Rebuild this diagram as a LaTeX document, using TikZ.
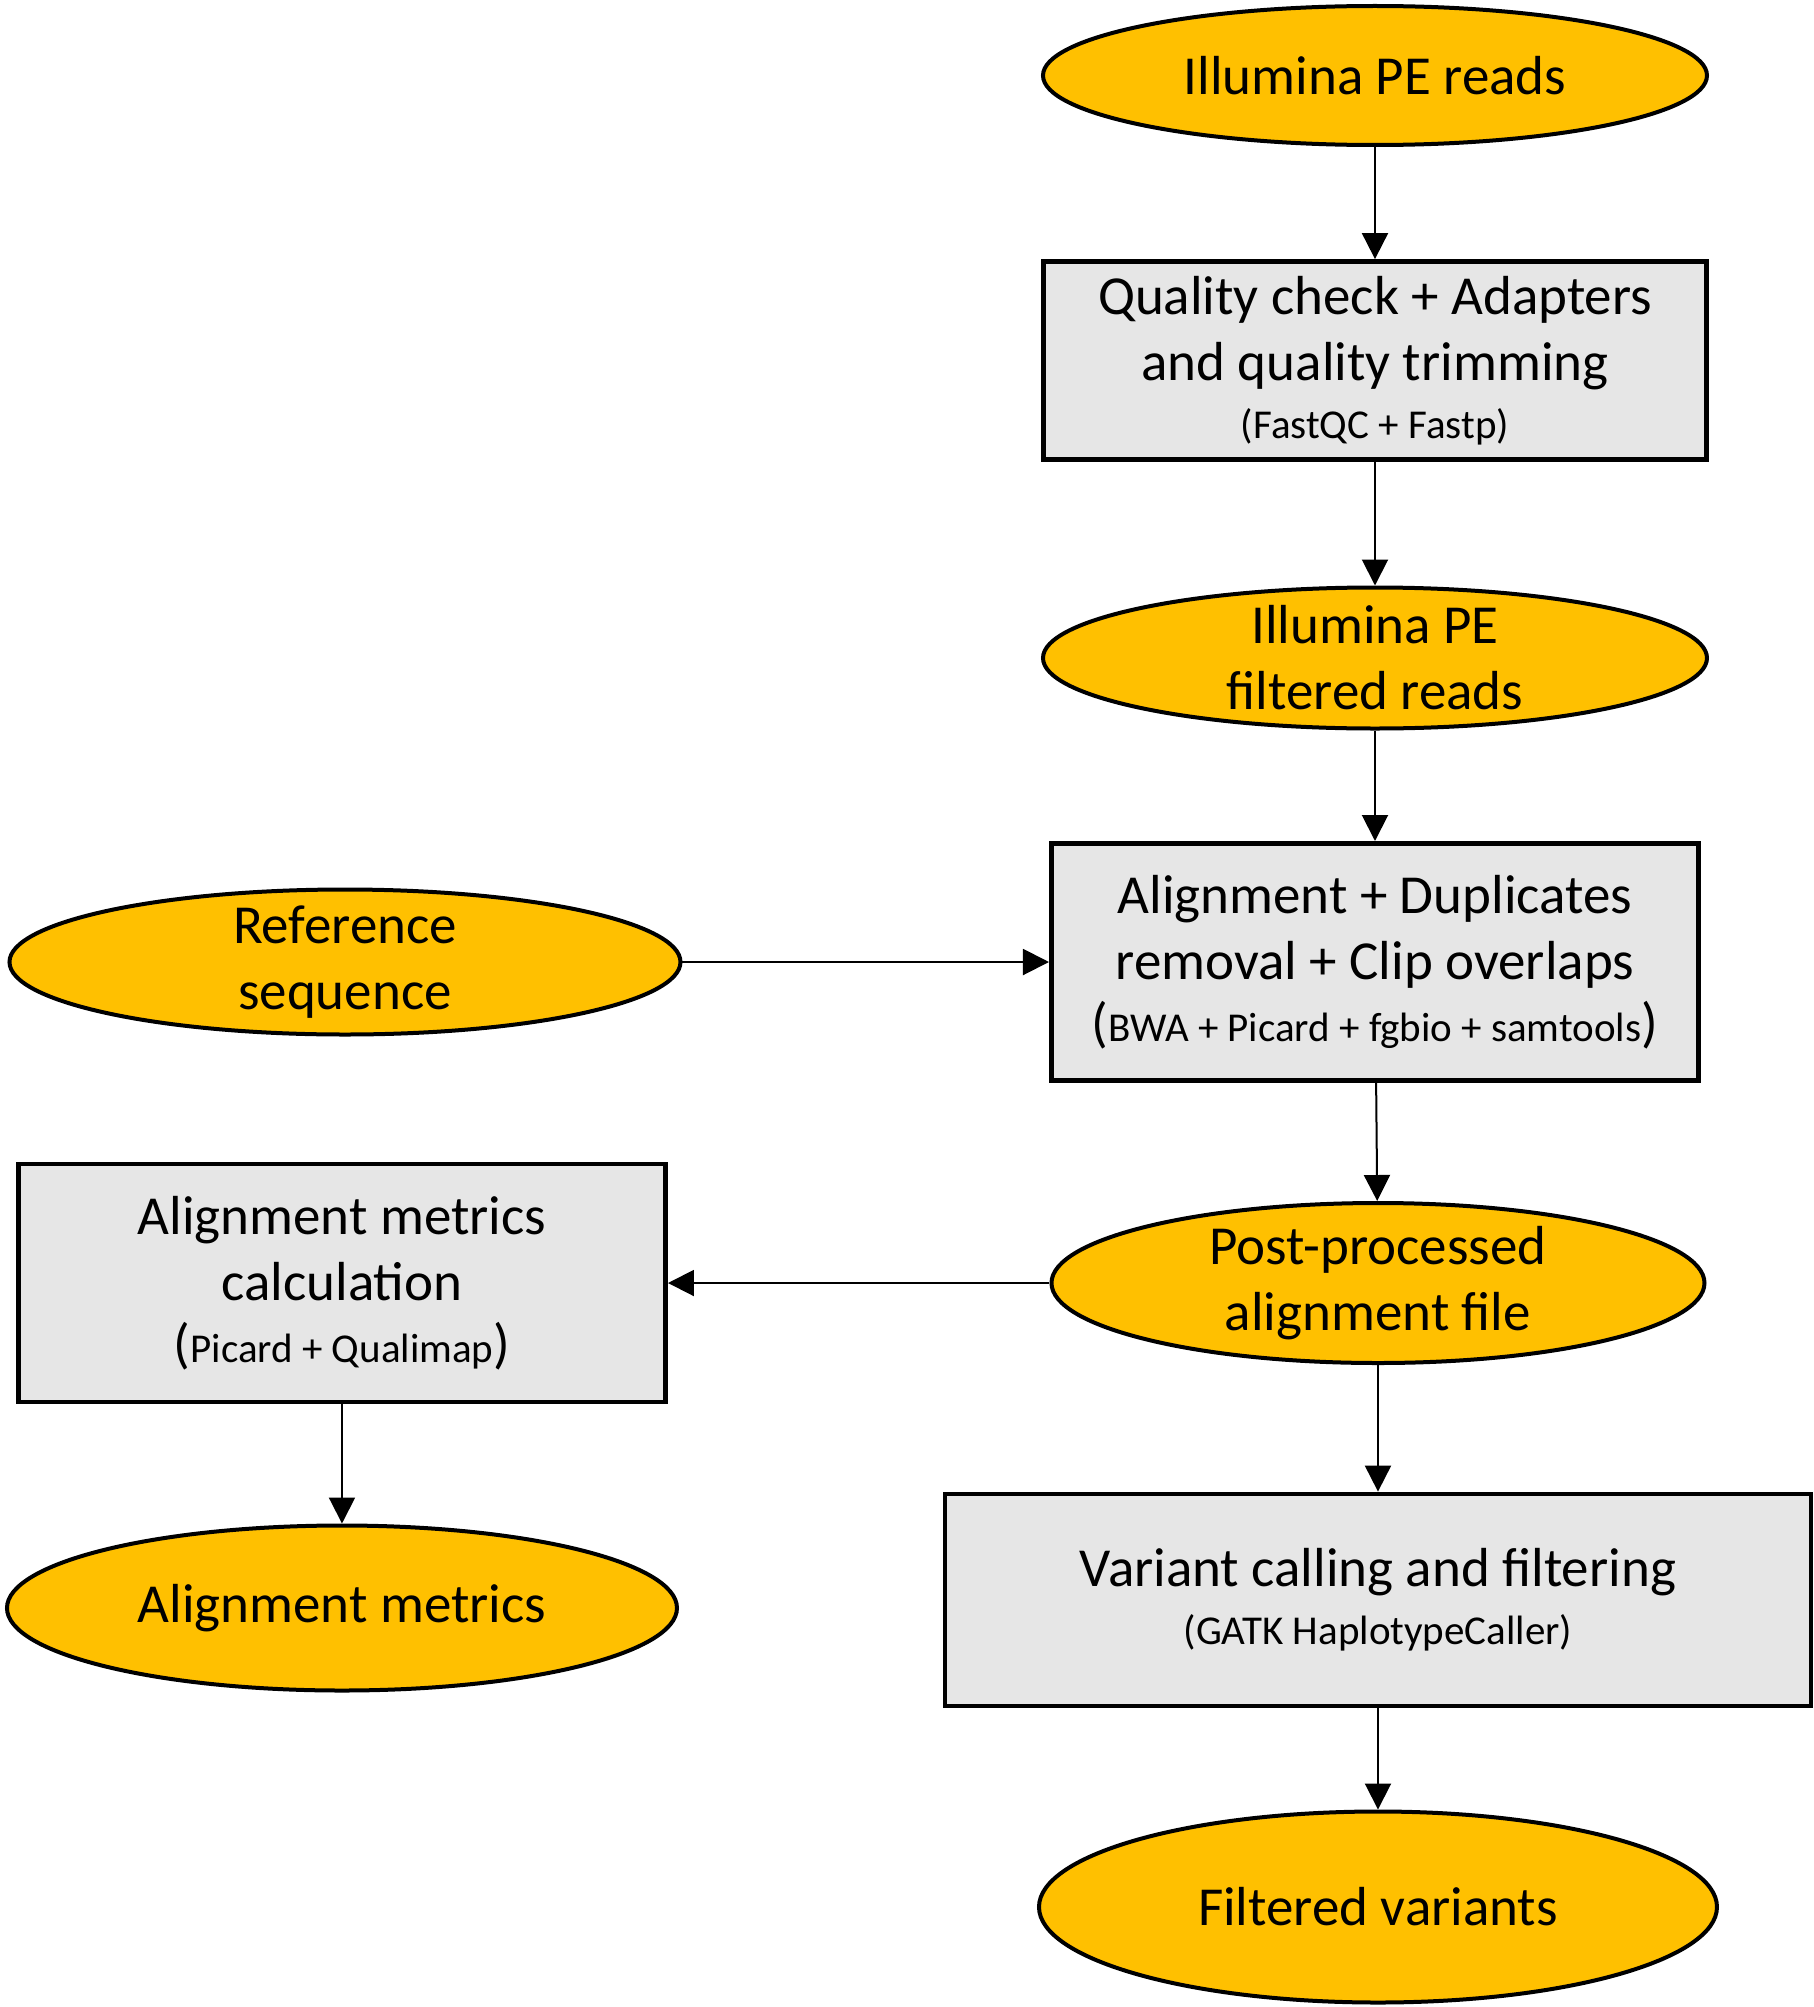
\documentclass[tikz,border=0pt]{standalone}
\usepackage{fontspec}
\setmainfont{Carlito}
\usetikzlibrary{shapes.geometric, arrows.meta}
\definecolor{readgold}{HTML}{FFC000}
\definecolor{toolgray}{HTML}{E6E6E6}
\newcommand{\toolname}[1]{{\fontsize{20.5}{24}\selectfont #1}}

\begin{document}
\begin{tikzpicture}[
            node distance=152pt,
            data/.style={ellipse, draw=black, fill=readgold, line width=2pt,
                         inner xsep=0pt, inner ysep=-10pt, align=center,
                         font=\fontsize{27.5}{33}\selectfont},
            tool/.style={rectangle, draw=black, fill=toolgray, line width=2.4pt,
                         align=center, font=\fontsize{27.5}{33}\selectfont},
            arrow/.style={-{Triangle[length=13pt, width=13pt]}, line width=1pt}
        ]
            \useasboundingbox (-687.5pt,37.75pt) rectangle (219.5pt,-965.75pt);

            \node[data, minimum width=332pt, minimum height=69.5pt] (reads) {Illumina PE reads};
            \node[tool, below of=reads, node distance=142.5pt, minimum width=331.6pt, minimum height=99pt] (trim)
                {Quality check + Adapters\\and quality trimming\\[-4pt]\toolname{(FastQC + Fastp)}};
            \node[data, below of=trim, node distance=148.75pt, minimum width=332pt, minimum height=70.5pt] (filtered)
                {Illumina PE\\filtered reads};
            \node[tool, below of=filtered, minimum width=323.6pt, minimum height=118.6pt] (align)
                {Alignment + Duplicates\\removal + Clip overlaps\\[-2pt](\toolname{BWA + Picard + fgbio + samtools})};
            \node[data, left of=align, node distance=515pt, minimum width=335.5pt, minimum height=72.5pt] (refseq)
                {Reference\\sequence};
            \node[data, below of=align, node distance=160.5pt, xshift=1.5pt, minimum width=326.5pt, minimum height=80pt] (postproc)
                {Post-processed\\alignment file};
            \node[tool, left of=postproc, node distance=518pt, minimum width=323.6pt, minimum height=119pt] (metricscalc)
                {Alignment metrics\\calculation\\[-2pt](\toolname{Picard + Qualimap})};
            \node[data, below of=metricscalc, node distance=162.5pt, minimum width=335pt, minimum height=82.5pt] (metrics)
                {Alignment metrics};
            \node[tool, below of=postproc, node distance=158.5pt, minimum width=433pt, minimum height=106pt] (calling)
                {Variant calling and filtering\\[-4pt]\toolname{(GATK HaplotypeCaller)}};
            \node[data, below of=calling, node distance=153.5pt, minimum width=339pt, minimum height=95.5pt] (variants)
                {Filtered variants};

            \draw[arrow] (reads) -- (trim);
            \draw[arrow] (trim) -- (filtered);
            \draw[arrow] (filtered) -- (align);
            \draw[arrow] (refseq) -- (align);
            \draw[arrow] (align) -- (postproc);
            \draw[arrow] (postproc) -- (metricscalc);
            \draw[arrow] (metricscalc) -- (metrics);
            \draw[arrow] (postproc) -- (calling);
            \draw[arrow] (calling) -- (variants);
        \end{tikzpicture}
\end{document}
